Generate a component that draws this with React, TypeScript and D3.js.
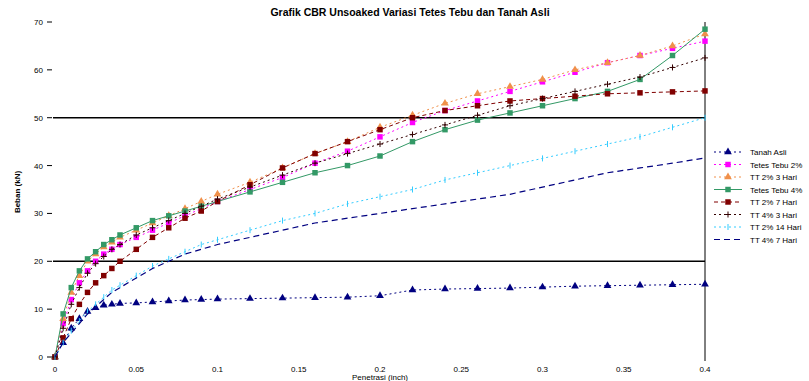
import React from "react";
import * as d3 from "d3";

const penetrasi = [0, 0.005, 0.01, 0.015, 0.02, 0.025, 0.03, 0.035, 0.04, 0.05, 0.06, 0.07, 0.08, 0.09, 0.1, 0.12, 0.14, 0.16, 0.18, 0.2, 0.22, 0.24, 0.26, 0.28, 0.3, 0.32, 0.34, 0.36, 0.38, 0.4];

const tanahAsli = [0, 3, 6, 8, 9.5, 10.3, 10.8, 11, 11.2, 11.3, 11.5, 11.7, 11.9, 12, 12.1, 12.2, 12.3, 12.4, 12.5, 12.8, 14, 14.2, 14.3, 14.4, 14.6, 14.8, 14.9, 15, 15.1, 15.2];
const seriesB = [0, 7, 12, 15.5, 18, 20, 21.5, 22.5, 23.5, 25, 26.5, 28, 29.5, 31, 32.5, 35, 37.5, 40.5, 43, 46, 49, 51.5, 53.5, 55.5, 57.5, 59.5, 61.5, 63, 64.5, 66];
const seriesC = [0, 8, 13.5, 17, 20, 21.5, 23, 24, 25, 26.5, 28, 29.5, 31, 32.5, 34, 36.5, 39.5, 42.5, 45, 48, 50.5, 53, 55, 56.5, 58, 60, 61.5, 63, 65, 67.5];
const seriesD = [0, 9, 14.5, 18, 20.5, 22, 23.5, 24.5, 25.5, 27, 28.5, 29.5, 30.5, 31.5, 32.5, 34.5, 36.5, 38.5, 40, 42, 45, 47.5, 49.5, 51, 52.5, 54, 55.5, 58, 63, 68.5];
const seriesE = [0, 4, 8, 11, 13.5, 15.5, 17, 18.5, 20, 22.5, 25, 27, 29, 30.5, 32.5, 36, 39.5, 42.5, 45, 47.5, 50, 51.5, 52.5, 53.5, 54, 54.5, 55, 55.2, 55.4, 55.6];
const seriesF = [0, 6, 11, 14.5, 17.5, 19.5, 21, 22.5, 23.5, 25.5, 27, 28.5, 30, 31.5, 33, 35.5, 38, 40.5, 42.5, 44.5, 46.5, 48.5, 50.5, 52.5, 54, 55.5, 57, 58.5, 60.5, 62.5];
const seriesG = [0, 3, 5.5, 7.5, 9.5, 11, 12.5, 14, 15, 17, 19, 20.5, 22, 23.5, 24.5, 26.5, 28.5, 30, 32, 33.5, 35, 37, 38.5, 40, 41.5, 43, 44.5, 46, 48, 50];
const seriesH = [0, 3, 5, 7, 9, 10.5, 12, 13.5, 14.5, 16.5, 18.5, 20, 21.5, 22.5, 23.5, 25, 26.5, 28, 29, 30, 31, 32, 33, 34, 35.5, 37, 38.5, 39.5, 40.5, 41.6];

const seriesNames = ["Tanah Asli", "Tetes Tebu 2%", "TT 2% 3 Hari", "Tetes Tebu 4%", "TT 2% 7 Hari", "TT 4% 3 Hari", "TT 2% 14 Hari", "TT 4% 7 Hari"];
const xTicks = [0, 0.05, 0.1, 0.15, 0.2, 0.25, 0.3, 0.35, 0.4];
const yTicks = [0, 10, 20, 30, 40, 50, 60, 70];
const refLines = [20, 50];

const styles = [
  { data: tanahAsli, color: "#000080", marker: "triangle", dash: "2,3", width: 1 },
  { data: seriesB, color: "#FF00FF", marker: "square", dash: "2,3", width: 1 },
  { data: seriesC, color: "#F0904A", marker: "triangle", dash: "2,3", width: 1 },
  { data: seriesD, color: "#339966", marker: "square", dash: "", width: 1 },
  { data: seriesE, color: "#800000", marker: "square", dash: "4,3", width: 1 },
  { data: seriesF, color: "#330000", marker: "plus", dash: "2,3", width: 1 },
  { data: seriesG, color: "#33CCFF", marker: "bar", dash: "2,3", width: 1 },
  { data: seriesH, color: "#000080", marker: "none", dash: "6,4", width: 1.2 },
];

const W = 809, H = 381;
const left = 55, right = 705, top = 22, bottom = 357;

function Marker({ type, x, y, color }: { type: string; x: number; y: number; color: string }) {
  if (type === "triangle") {
    const p = d3.symbol().type(d3.symbolTriangle).size(26)();
    return <path d={p || ""} transform={`translate(${x},${y})`} fill={color} />;
  }
  if (type === "square") {
    const p = d3.symbol().type(d3.symbolSquare).size(30)();
    return <path d={p || ""} transform={`translate(${x},${y})`} fill={color} />;
  }
  if (type === "plus") {
    return <path d={`M${x - 3},${y}H${x + 3}M${x},${y - 3}V${y + 3}`} stroke={color} strokeWidth={1} />;
  }
  if (type === "bar") {
    return <path d={`M${x},${y - 3}V${y + 3}`} stroke={color} strokeWidth={1} />;
  }
  return null;
}

export default function App() {
  const x = d3.scaleLinear().domain([0, 0.4]).range([left, right]);
  const y = d3.scaleLinear().domain([0, 70]).range([bottom, top]);
  const line = d3.line<number>().x((_, i) => x(penetrasi[i])).y((d) => y(d));
  const fmt = (v: number) => String(+v.toFixed(2));

  return (
    <svg width={W} height={H} style={{ position: "absolute", left: 0, top: 0, background: "#fff" }} fontFamily="Liberation Sans, Arial, sans-serif">
      <text x={410} y={16} textAnchor="middle" fontSize={10.5} fontWeight="bold">Grafik CBR Unsoaked Variasi Tetes Tebu dan Tanah Asli</text>
      {refLines.map((v) => (
        <line key={v} x1={left - 2} x2={right} y1={y(v)} y2={y(v)} stroke="#000" strokeWidth={1.5} />
      ))}
      <line x1={right} x2={right} y1={top} y2={bottom + 4} stroke="#000" strokeWidth={1} />
      {yTicks.map((v) => (
        <g key={v}>
          <line x1={left - 8} x2={left - 3} y1={y(v)} y2={y(v)} stroke="#000" />
          <text x={left - 12} y={y(v) + 3} textAnchor="end" fontSize={8}>{v}</text>
        </g>
      ))}
      {xTicks.map((v) => (
        <text key={v} x={x(v)} y={372} textAnchor="middle" fontSize={8}>{fmt(v)}</text>
      ))}
      <text x={380} y={380} textAnchor="middle" fontSize={8}>Penetrasi (inch)</text>
      <text transform={`translate(20,192) rotate(-90)`} textAnchor="middle" fontSize={8} fontWeight="bold">Beban (kN)</text>
      {styles.map((s, si) => (
        <g key={si}>
          <path d={line(s.data) || ""} fill="none" stroke={s.color} strokeWidth={s.width} strokeDasharray={s.dash} />
          {s.data.map((v, i) => (
            <Marker key={i} type={s.marker} x={x(penetrasi[i])} y={y(v)} color={s.color} />
          ))}
        </g>
      ))}
      {seriesNames.map((n, i) => {
        const ly = 152 + i * 12.5;
        const s = styles[i];
        return (
          <g key={n}>
            <line x1={714} x2={742} y1={ly} y2={ly} stroke={s.color} strokeWidth={s.width} strokeDasharray={s.dash} />
            <Marker type={s.marker} x={728} y={ly} color={s.color} />
            <text x={750} y={ly + 3} fontSize={8}>{n}</text>
          </g>
        );
      })}
    </svg>
  );
}
